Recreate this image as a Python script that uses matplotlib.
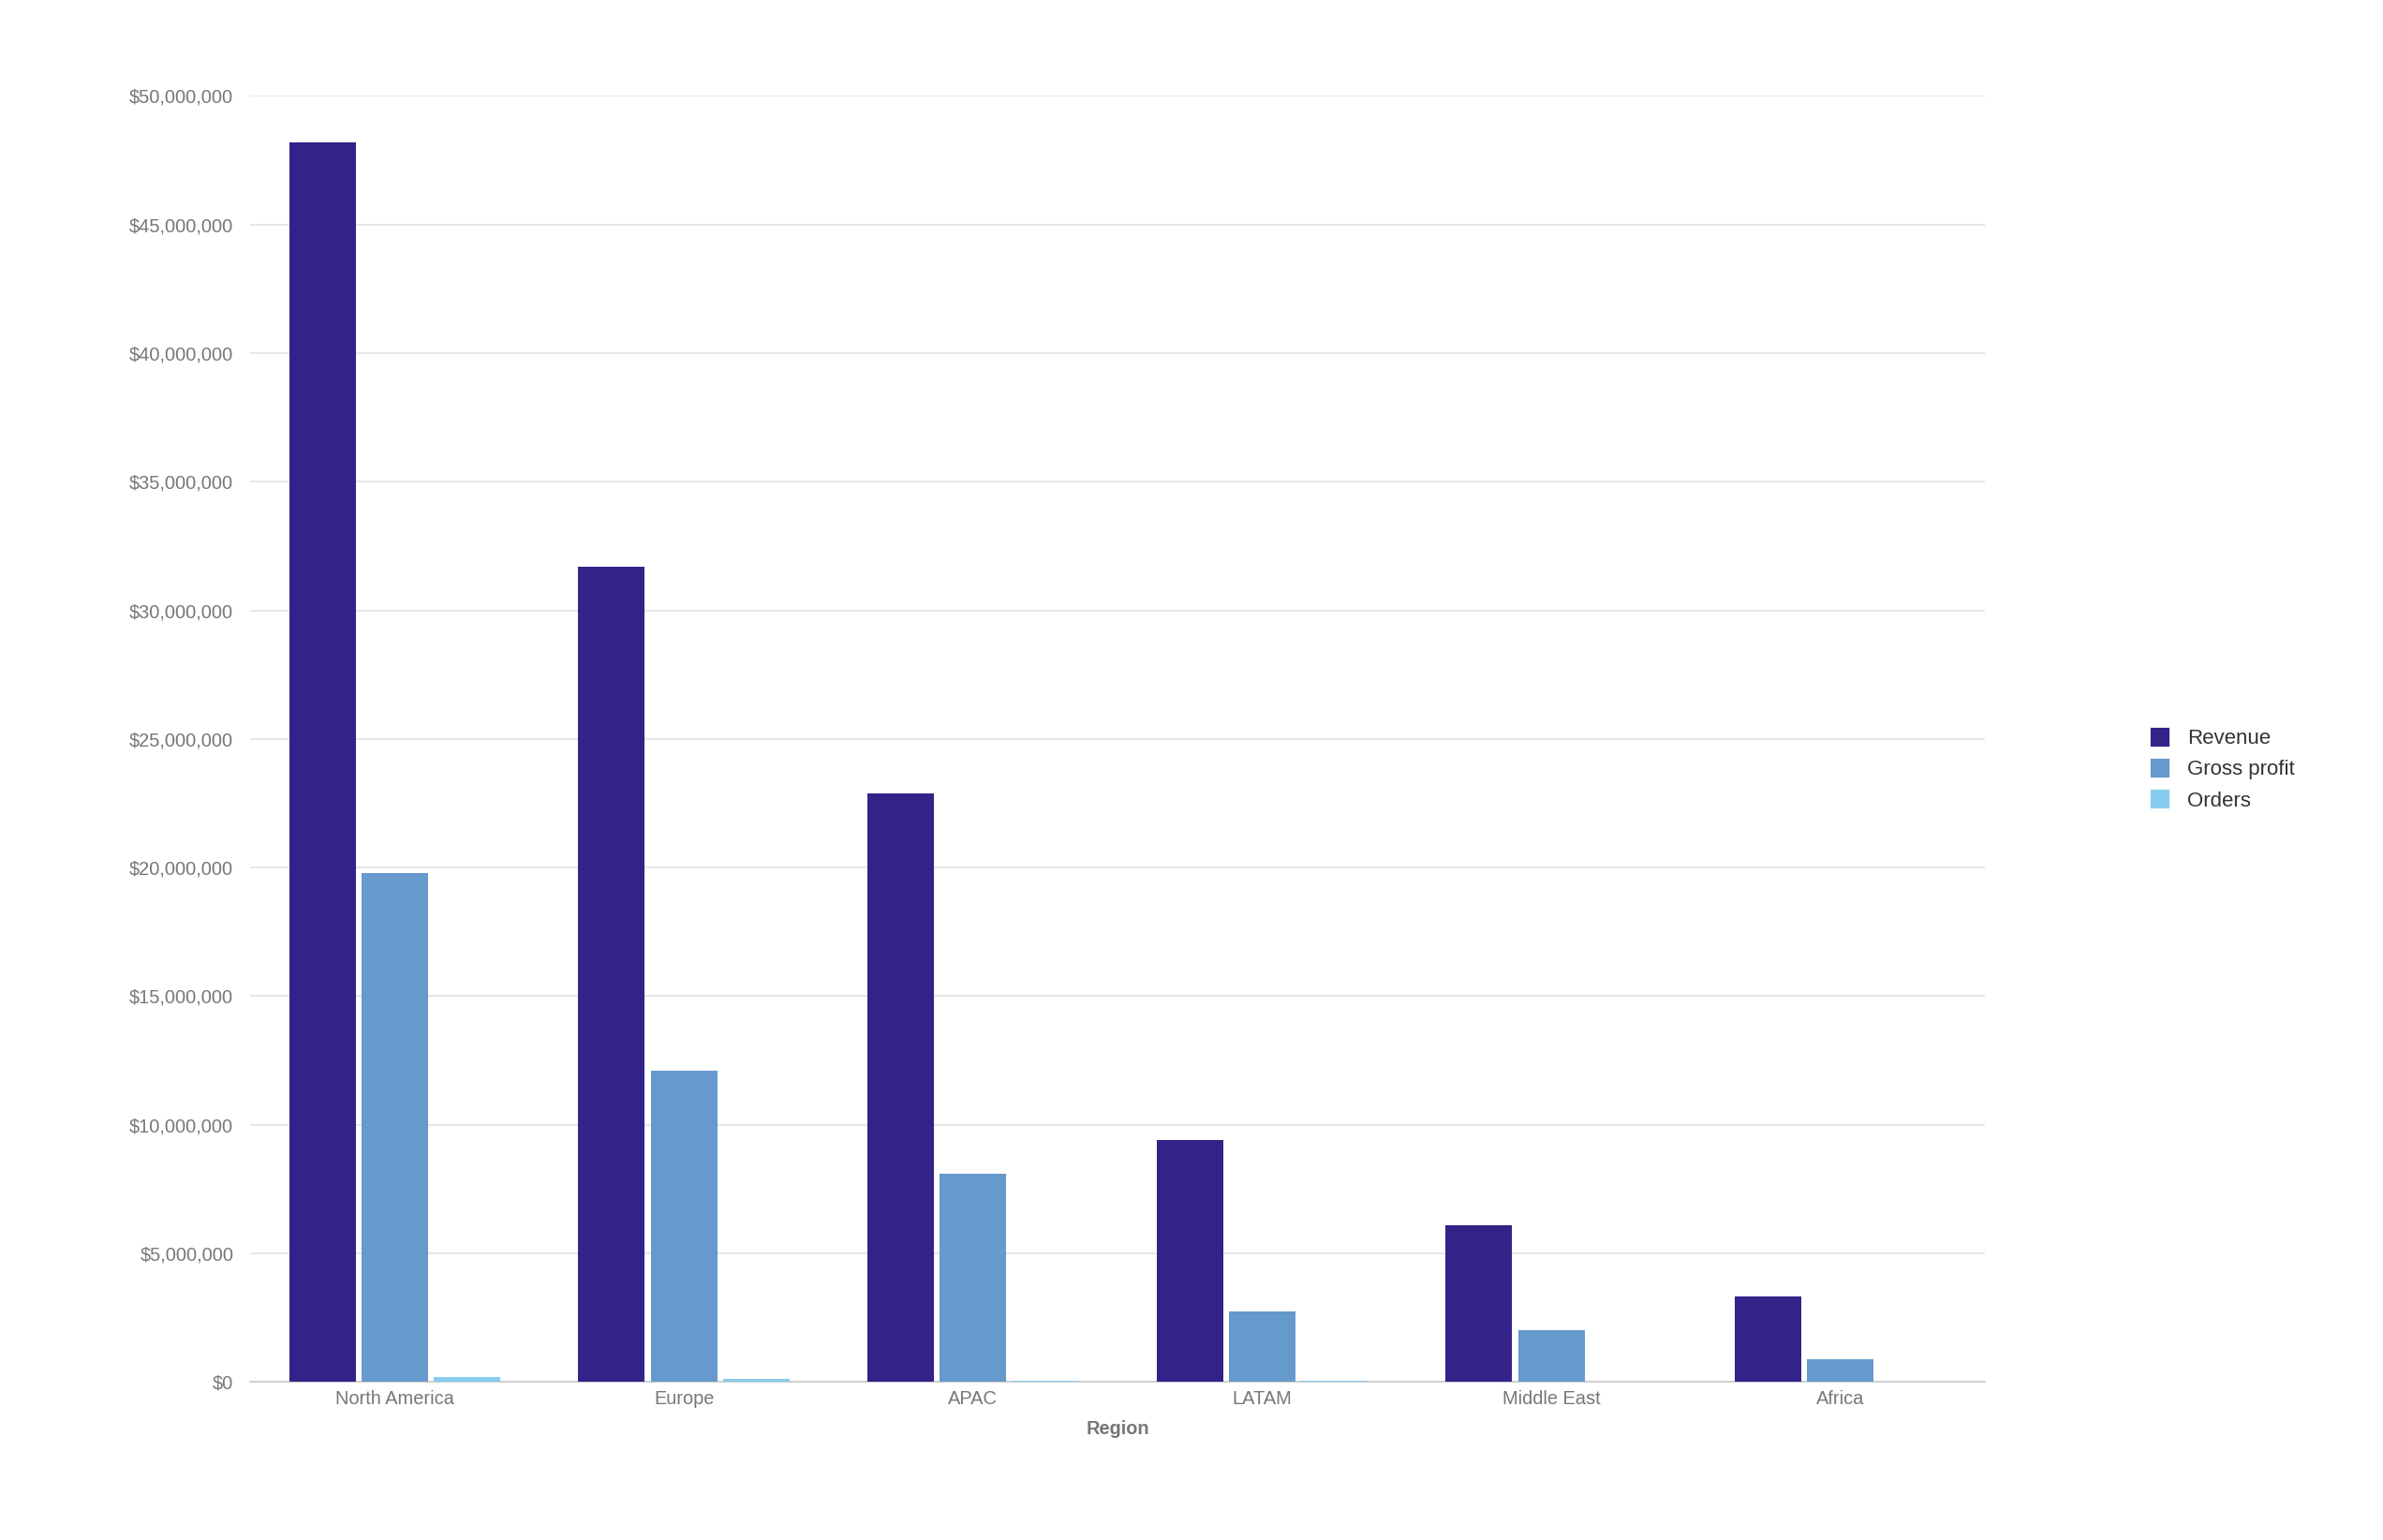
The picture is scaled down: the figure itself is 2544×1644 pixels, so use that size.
import matplotlib
matplotlib.use("Agg")
import matplotlib.pyplot as plt
import numpy as np
from matplotlib.ticker import FuncFormatter
from matplotlib.lines import Line2D

regions = ["North America", "Europe", "APAC", "LATAM", "Middle East", "Africa"]
revenue = [48200000, 31700000, 22870000, 9400000, 6090000, 3310000]
gross_profit = [19800000, 12100000, 8100000, 2720000, 2000000, 890000]
orders = [180000, 120000, 60000, 25000, 15000, 8000]
series_names = ["Revenue", "Gross profit", "Orders"]
colors = ["#332288", "#6699CC", "#88CCEE"]

plt.rcParams['font.family'] = ['Liberation Sans', 'DejaVu Sans']
fig = plt.figure(figsize=(15.9, 10.275), dpi=160)
ax = fig.add_axes([0.105, 0.1027, 0.728, 0.835])

x = np.arange(len(regions))
w = 0.23
for i, (vals, c) in enumerate(zip([revenue, gross_profit, orders], colors)):
    ax.bar(x + (i - 1) * 0.25, vals, width=w, color=c, zorder=3)

ax.set_xlim(-0.5, len(regions) - 0.5)
ax.set_ylim(0, 50000000)
ax.set_yticks(np.arange(0, 50000001, 5000000))
ax.yaxis.set_major_formatter(FuncFormatter(lambda v, p: f"${v:,.0f}"))
ax.set_xticks(x)
ax.set_xticklabels(regions)
ax.tick_params(axis='both', length=0, colors="#777777", labelsize=9)
ax.tick_params(axis='y', pad=8)
ax.tick_params(axis='x', pad=4)
ax.grid(axis='y', color="#e3e3e3", linewidth=0.8, zorder=0)
for s in ["top", "right", "left"]:
    ax.spines[s].set_visible(False)
ax.spines["bottom"].set_color("#cccccc")
ax.set_xlabel("Region", color="#777777", fontsize=9, fontweight="bold", labelpad=6)

handles = [Line2D([0], [0], marker='s', linestyle='', markersize=8, markerfacecolor=c,
                  markeredgecolor=c) for c in colors]
fig.legend(handles, series_names, loc='center left', bbox_to_anchor=(0.89, 0.5),
           frameon=False, fontsize=10, labelcolor="#333333", handletextpad=0.3,
           labelspacing=0.55)

fig.savefig("out.png", dpi=160, facecolor="white")
